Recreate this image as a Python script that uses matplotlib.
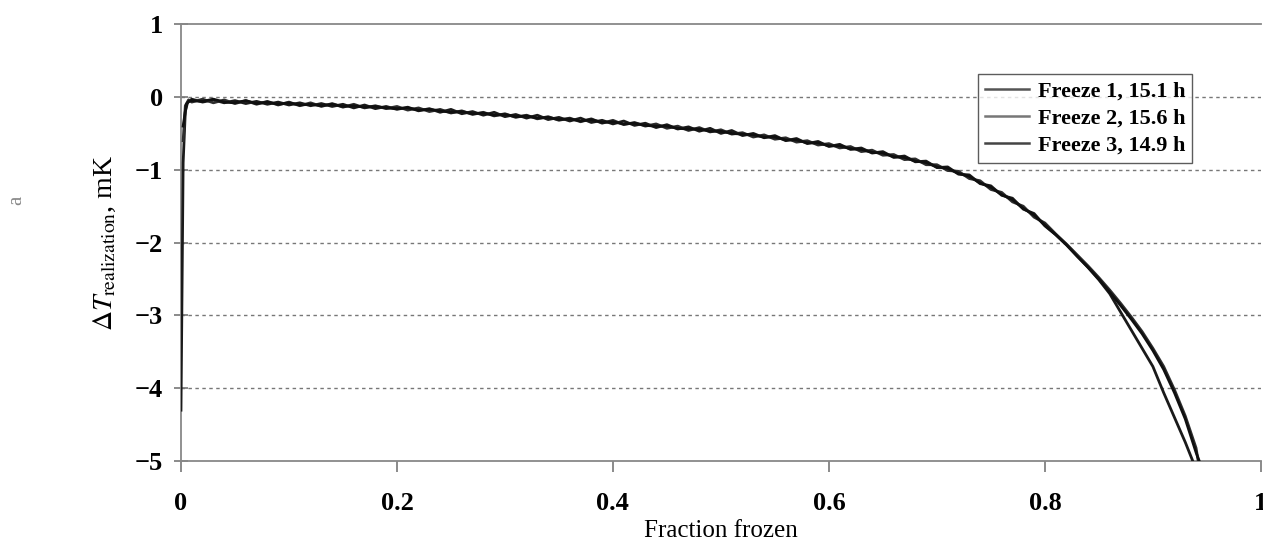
import matplotlib
matplotlib.use("Agg")
import matplotlib.pyplot as plt

plt.rcParams['font.family'] = ['Liberation Serif', 'DejaVu Serif']
plt.rcParams['mathtext.fontset'] = 'stix'

# --- data ---
x_mid = [round(0.01 * i, 2) for i in range(1, 81)]

freeze1_mid = [
    -0.03, -0.07, -0.04, -0.08, -0.05, -0.09, -0.06, -0.10, -0.07, -0.11,
    -0.08, -0.12, -0.09, -0.13, -0.10, -0.15, -0.11, -0.16, -0.13, -0.17,
    -0.14, -0.19, -0.16, -0.21, -0.17, -0.23, -0.20, -0.25, -0.21, -0.27,
    -0.24, -0.29, -0.25, -0.31, -0.28, -0.33, -0.29, -0.35, -0.32, -0.37,
    -0.33, -0.39, -0.36, -0.42, -0.38, -0.44, -0.41, -0.47, -0.43, -0.50,
    -0.46, -0.53, -0.50, -0.56, -0.53, -0.60, -0.57, -0.64, -0.61, -0.68,
    -0.65, -0.72, -0.70, -0.77, -0.75, -0.83, -0.81, -0.89, -0.88, -0.97,
    -0.96, -1.06, -1.07, -1.19, -1.22, -1.35, -1.39, -1.54, -1.60, -1.77,
]
freeze2_mid = [
    -0.07, -0.03, -0.08, -0.04, -0.09, -0.05, -0.10, -0.06, -0.11, -0.07,
    -0.12, -0.08, -0.13, -0.09, -0.14, -0.10, -0.15, -0.12, -0.16, -0.13,
    -0.18, -0.15, -0.20, -0.17, -0.22, -0.19, -0.24, -0.21, -0.26, -0.23,
    -0.28, -0.25, -0.30, -0.27, -0.32, -0.29, -0.34, -0.30, -0.36, -0.32,
    -0.38, -0.35, -0.40, -0.37, -0.43, -0.40, -0.46, -0.42, -0.48, -0.45,
    -0.51, -0.49, -0.55, -0.52, -0.58, -0.56, -0.62, -0.60, -0.66, -0.64,
    -0.70, -0.68, -0.75, -0.73, -0.80, -0.79, -0.86, -0.85, -0.93, -0.93,
    -1.01, -1.02, -1.12, -1.15, -1.27, -1.31, -1.44, -1.50, -1.65, -1.73,
]
freeze3_mid = [
    -0.05, -0.06, -0.03, -0.07, -0.08, -0.05, -0.09, -0.07, -0.10, -0.08,
    -0.11, -0.10, -0.12, -0.10, -0.13, -0.12, -0.14, -0.13, -0.15, -0.16,
    -0.15, -0.18, -0.17, -0.19, -0.21, -0.20, -0.23, -0.22, -0.25, -0.24,
    -0.27, -0.26, -0.29, -0.28, -0.31, -0.30, -0.33, -0.31, -0.35, -0.34,
    -0.37, -0.36, -0.39, -0.40, -0.40, -0.43, -0.44, -0.44, -0.47, -0.47,
    -0.50, -0.51, -0.52, -0.55, -0.55, -0.59, -0.59, -0.63, -0.63, -0.67,
    -0.67, -0.71, -0.72, -0.76, -0.77, -0.82, -0.83, -0.88, -0.90, -0.96,
    -0.98, -1.05, -1.09, -1.18, -1.24, -1.34, -1.41, -1.53, -1.62, -1.76,
]

freeze1_start_x = [0.0, 0.002, 0.004, 0.006]
freeze1_start_y = [-4.3, -0.9, -0.2, -0.08]
freeze2_start_x = [0.002, 0.004, 0.007]
freeze2_start_y = [-0.6, -0.12, -0.04]
freeze3_start_x = [0.002, 0.005, 0.007]
freeze3_start_y = [-0.4, -0.1, -0.06]

freeze1_tail_x = [0.81, 0.82, 0.83, 0.84, 0.85, 0.86, 0.87, 0.88, 0.89, 0.90, 0.91, 0.92, 0.93, 0.937]
freeze1_tail_y = [-1.89, -2.03, -2.18, -2.34, -2.51, -2.70, -2.95, -3.20, -3.45, -3.70, -4.06, -4.40, -4.74, -5.0]
freeze2_tail_x = [0.81, 0.82, 0.83, 0.84, 0.85, 0.86, 0.87, 0.88, 0.89, 0.90, 0.91, 0.92, 0.93, 0.94, 0.942]
freeze2_tail_y = [-1.88, -2.02, -2.17, -2.32, -2.48, -2.65, -2.83, -3.02, -3.22, -3.45, -3.70, -4.02, -4.38, -4.82, -5.0]
freeze3_tail_x = [0.81, 0.82, 0.83, 0.84, 0.85, 0.86, 0.87, 0.88, 0.89, 0.90, 0.91, 0.92, 0.93, 0.94, 0.943]
freeze3_tail_y = [-1.89, -2.03, -2.19, -2.34, -2.50, -2.68, -2.86, -3.05, -3.25, -3.48, -3.74, -4.06, -4.42, -4.88, -5.0]

labels = ["Freeze 1, 15.1 h", "Freeze 2, 15.6 h", "Freeze 3, 14.9 h"]
colors = ["#1a1a1a", "#2e2e2e", "#101010"]
legend_colors = ["#555555", "#777777", "#444444"]

x_ticks = [0, 0.2, 0.4, 0.6, 0.8, 1]
x_tick_labels = ["0", "0.2", "0.4", "0.6", "0.8", "1"]
y_ticks = [1, 0, -1, -2, -3, -4, -5]
y_tick_labels = ["1", "0", "\u22121", "\u22122", "\u22123", "\u22124", "\u22125"]

fig = plt.figure(figsize=(12.63, 5.49), dpi=100)
ax = fig.add_axes([0.1433, 0.160, 0.855, 0.796])

series = [
    (freeze1_start_x + x_mid + freeze1_tail_x, freeze1_start_y + freeze1_mid + freeze1_tail_y),
    (freeze2_start_x + x_mid + freeze2_tail_x, freeze2_start_y + freeze2_mid + freeze2_tail_y),
    (freeze3_start_x + x_mid + freeze3_tail_x, freeze3_start_y + freeze3_mid + freeze3_tail_y),
]
for (xs, ys), c in zip(series, colors):
    ax.plot(xs, ys, color=c, linewidth=2.0, zorder=3)

# grid lines (dotted) at 0..-4
for yv in [0, -1, -2, -3, -4]:
    ax.axhline(yv, color="#777777", linestyle=(0, (2.5, 2.5)), linewidth=1.0, zorder=1)

ax.set_xlim(0, 1)
ax.set_ylim(-5, 1)
ax.set_xticks(x_ticks)
ax.set_xticklabels(x_tick_labels)
ax.set_yticks(y_ticks)
ax.set_yticklabels(y_tick_labels)

for side in ["top", "bottom", "left"]:
    ax.spines[side].set_color("#888888")
    ax.spines[side].set_linewidth(1.3)
ax.spines["right"].set_visible(False)

ax.tick_params(axis="y", direction="inout", length=10, width=1.2, color="#777777",
               labelsize=19, pad=8)
ax.tick_params(axis="x", direction="out", length=8, width=1.2, color="#777777",
               labelsize=19, pad=14)
for lbl in ax.get_xticklabels() + ax.get_yticklabels():
    lbl.set_fontweight("bold")

ax.set_xlabel("Fraction frozen", fontsize=18, labelpad=4)
ax.set_ylabel(r"$\Delta T_{\mathrm{realization}}$, mK", fontsize=20, labelpad=12)

handles = [plt.Line2D([], [], color=c, linewidth=1.8) for c in legend_colors]
leg = ax.legend(handles, labels, loc="upper left", bbox_to_anchor=(0.738, 0.885),
                fontsize=16, frameon=True, fancybox=False, edgecolor="#333333",
                handlelength=2.0, handletextpad=0.4, borderpad=0.3, labelspacing=0.3,
                borderaxespad=0)
leg.get_frame().set_linewidth(1.0)
for t in leg.get_texts():
    t.set_fontweight("bold")

# stray mark at far left of the scan
fig.text(0.013, 0.635, "a", rotation=90, fontsize=15, color="#888888",
         ha="center", va="center")

fig.savefig("out.png", dpi=100)
